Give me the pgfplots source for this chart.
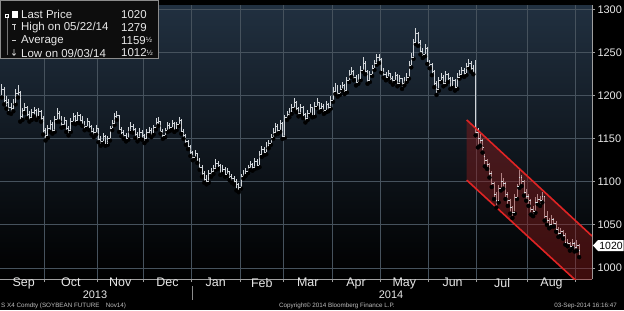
\documentclass[border=0pt]{standalone}
\usepackage{fontspec}
\setmainfont{Liberation Sans}
\usepackage{pgfplots}
\pgfplotsset{compat=1.18}
\usepackage{pgfplotstable}

\definecolor{bgtop}{HTML}{213040}
\definecolor{bgmid}{HTML}{121A22}
\definecolor{gridcol}{HTML}{46525D}
\definecolor{barcol}{HTML}{D2D6DA}
\definecolor{axcol}{HTML}{A0A0A0}
\definecolor{txtcol}{HTML}{E8E8E8}
\definecolor{footcol}{HTML}{BEBEBE}
\definecolor{chred}{HTML}{E02424}
\definecolor{chfill}{HTML}{8A1C1C}

\pgfdeclareplotmark{otick}{\pgfpathmoveto{\pgfqpoint{-\pgfplotmarksize}{0pt}}\pgfpathlineto{\pgfqpoint{0pt}{0pt}}\pgfusepathqstroke}
\pgfdeclareplotmark{ctick}{\pgfpathmoveto{\pgfqpoint{0pt}{0pt}}\pgfpathlineto{\pgfqpoint{\pgfplotmarksize}{0pt}}\pgfusepathqstroke}

\pgfplotstableread{
i o h l c
0 1210 1216 1200 1205
1 1205 1214 1198 1208
2 1208 1210 1190 1195
3 1195 1200 1185 1192
4 1192 1196 1180 1186
5 1186 1192 1179 1185
6 1185 1196 1182 1192
7 1192 1208 1190 1203
8 1203 1212 1198 1204
9 1204 1206 1170 1176
10 1176 1186 1172 1183
11 1183 1192 1180 1186
12 1186 1188 1174 1179
13 1179 1182 1170 1175
14 1175 1185 1172 1181
15 1181 1187 1176 1183
16 1183 1185 1172 1177
17 1177 1186 1175 1182
18 1182 1184 1170 1174
19 1174 1176 1155 1160
20 1160 1162 1148 1154
21 1154 1166 1151 1162
22 1162 1172 1158 1167
23 1167 1169 1156 1160
24 1160 1176 1158 1173
25 1173 1186 1170 1180
26 1180 1182 1170 1175
27 1175 1177 1163 1167
28 1167 1175 1164 1171
29 1171 1172 1158 1162
30 1162 1165 1154 1160
31 1160 1174 1158 1170
32 1170 1180 1168 1176
33 1176 1178 1167 1171
34 1171 1181 1169 1177
35 1177 1179 1168 1172
36 1172 1176 1165 1169
37 1169 1171 1160 1164
38 1164 1174 1162 1170
39 1170 1171 1160 1164
40 1164 1166 1155 1159
41 1159 1163 1152 1157
42 1157 1166 1155 1162
43 1162 1163 1146 1149
44 1149 1153 1142 1147
45 1147 1157 1145 1153
46 1153 1155 1142 1145
47 1145 1153 1143 1150
48 1150 1165 1148 1162
49 1162 1172 1160 1168
50 1168 1180 1166 1176
51 1176 1182 1172 1177
52 1177 1178 1158 1161
53 1161 1164 1153 1157
54 1157 1160 1150 1154
55 1154 1157 1147 1151
56 1151 1164 1149 1160
57 1160 1169 1158 1165
58 1165 1167 1157 1161
59 1161 1163 1151 1155
60 1155 1158 1147 1152
61 1152 1162 1150 1158
62 1158 1160 1149 1154
63 1154 1156 1145 1150
64 1150 1161 1148 1158
65 1158 1164 1154 1160
66 1160 1162 1152 1157
67 1157 1166 1155 1163
68 1163 1174 1161 1169
69 1169 1175 1165 1170
70 1170 1171 1156 1159
71 1159 1161 1150 1154
72 1154 1163 1152 1160
73 1160 1170 1158 1166
74 1166 1168 1159 1163
75 1163 1172 1161 1168
76 1168 1169 1158 1162
77 1162 1170 1160 1167
78 1167 1175 1165 1172
79 1172 1173 1156 1159
80 1159 1161 1150 1154
81 1154 1156 1143 1147
82 1147 1149 1138 1141
83 1141 1143 1130 1134
84 1134 1136 1125 1129
85 1129 1137 1127 1133
86 1133 1134 1122 1126
87 1126 1128 1114 1117
88 1117 1119 1106 1110
89 1110 1112 1099 1103
90 1103 1108 1097 1101
91 1101 1114 1099 1110
92 1110 1116 1106 1112
93 1112 1120 1109 1116
94 1116 1127 1114 1122
95 1122 1124 1115 1119
96 1119 1121 1108 1112
97 1112 1119 1110 1115
98 1115 1117 1106 1109
99 1109 1116 1107 1112
100 1112 1113 1102 1106
101 1106 1109 1099 1104
102 1104 1107 1097 1101
103 1101 1103 1090 1097
104 1097 1099 1088 1094
105 1094 1109 1092 1106
106 1106 1114 1104 1110
107 1110 1116 1107 1112
108 1112 1120 1110 1117
109 1117 1124 1114 1120
110 1120 1122 1113 1117
111 1117 1128 1115 1124
112 1124 1126 1116 1119
113 1119 1136 1117 1132
114 1132 1142 1129 1138
115 1138 1140 1131 1134
116 1134 1146 1132 1142
117 1142 1149 1139 1145
118 1145 1156 1143 1152
119 1152 1162 1150 1158
120 1158 1168 1155 1165
121 1165 1167 1156 1160
122 1160 1172 1158 1168
123 1168 1170 1150 1153
124 1153 1178 1151 1175
125 1175 1182 1172 1178
126 1178 1186 1175 1182
127 1182 1190 1179 1186
128 1186 1197 1184 1192
129 1192 1194 1181 1185
130 1185 1187 1176 1180
131 1180 1190 1178 1186
132 1186 1188 1174 1178
133 1178 1180 1169 1174
134 1174 1184 1172 1180
135 1180 1190 1178 1186
136 1186 1187 1175 1178
137 1178 1193 1176 1188
138 1188 1197 1186 1192
139 1192 1193 1181 1185
140 1185 1192 1183 1188
141 1188 1190 1179 1183
142 1183 1194 1181 1190
143 1190 1192 1182 1187
144 1187 1200 1185 1195
145 1195 1210 1193 1205
146 1205 1215 1202 1210
147 1210 1212 1199 1203
148 1203 1213 1201 1208
149 1208 1216 1206 1212
150 1212 1214 1202 1206
151 1206 1222 1204 1218
152 1218 1230 1216 1225
153 1225 1233 1222 1228
154 1228 1230 1218 1222
155 1222 1224 1212 1216
156 1216 1225 1214 1220
157 1220 1235 1218 1230
158 1230 1245 1228 1238
159 1238 1240 1225 1228
160 1228 1230 1214 1218
161 1218 1229 1216 1225
162 1225 1236 1223 1232
163 1232 1242 1230 1238
164 1238 1249 1236 1245
165 1245 1248 1238 1242
166 1242 1244 1227 1230
167 1230 1232 1221 1225
168 1225 1228 1218 1222
169 1222 1230 1220 1226
170 1226 1227 1216 1220
171 1220 1223 1213 1218
172 1218 1228 1216 1224
173 1224 1225 1211 1215
174 1215 1224 1213 1220
175 1220 1221 1208 1214
176 1214 1222 1212 1218
177 1218 1227 1216 1222
178 1222 1240 1220 1235
179 1235 1250 1233 1245
180 1245 1266 1243 1262
181 1262 1279 1260 1272
182 1272 1274 1258 1262
183 1262 1265 1248 1252
184 1252 1255 1244 1248
185 1248 1260 1246 1255
186 1255 1257 1237 1240
187 1240 1242 1232 1236
188 1236 1238 1224 1228
189 1228 1230 1210 1215
190 1215 1217 1201 1208
191 1208 1222 1206 1218
192 1218 1226 1216 1222
193 1222 1224 1211 1215
194 1215 1229 1213 1225
195 1225 1227 1216 1220
196 1220 1222 1208 1212
197 1212 1222 1210 1218
198 1218 1220 1206 1210
199 1210 1226 1208 1222
200 1222 1230 1220 1225
201 1225 1234 1223 1230
202 1230 1232 1222 1226
203 1226 1238 1224 1234
204 1234 1243 1232 1238
205 1238 1240 1228 1232
206 1232 1236 1225 1230
207 1230 1242 1154 1158
208 1158 1162 1140 1150
209 1150 1156 1142 1148
210 1148 1150 1134 1140
211 1130 1132 1118 1125
212 1125 1127 1115 1120
213 1120 1122 1105 1110
214 1110 1112 1094 1098
215 1098 1100 1080 1085
216 1085 1088 1070 1078
217 1078 1096 1076 1092
218 1092 1110 1090 1100
219 1100 1104 1092 1098
220 1098 1100 1080 1085
221 1085 1088 1072 1078
222 1078 1080 1063 1070
223 1070 1072 1058 1065
224 1065 1086 1063 1082
225 1082 1098 1080 1095
226 1095 1116 1093 1105
227 1105 1108 1095 1100
228 1100 1102 1084 1088
229 1088 1092 1078 1083
230 1083 1086 1072 1078
231 1078 1080 1062 1068
232 1068 1072 1060 1066
233 1066 1082 1064 1076
234 1076 1086 1074 1080
235 1080 1083 1072 1078
236 1078 1088 1076 1083
237 1083 1084 1055 1060
238 1060 1066 1050 1055
239 1055 1058 1046 1050
240 1050 1062 1048 1056
241 1056 1058 1048 1052
242 1052 1054 1042 1045
243 1045 1047 1036 1040
244 1040 1046 1038 1042
245 1042 1044 1034 1038
246 1038 1040 1027 1030
247 1030 1034 1025 1028
248 1028 1030 1020 1025
249 1025 1034 1023 1028
250 1028 1030 1019 1024
251 1024 1032 1020 1026
252 1026 1028 1012.5 1020
}\ohlc

\begin{document}
\begin{tikzpicture}[x=1bp,y=1bp]
\fill[black] (0,0) rectangle (624,310);
\begin{axis}[
  at={(0,36)}, anchor=south west,
  scale only axis, width=592bp, height=274bp,
  xmin=0.2, xmax=257.6, ymin=987, ymax=1305.5,
  axis background/.style={shade, top color=bgtop, middle color=bgmid, bottom color=black},
  axis x line*=bottom, axis y line*=right,
  axis line style={draw=axcol, line width=0.8bp},
  tick style={draw=axcol, line width=0.7bp},
  major tick length=3bp, tick align=outside,
  xtick={19.5,42.5,62.5,83.5,104.5,123.5,144.5,165.5,186.5,207.5,229.5,250.5},
  xticklabels={},
  extra x ticks={10.5,31,52.5,73,94,114,134,155,176,197,218.5,240},
  extra x tick labels={Sep,Oct,Nov,Dec,Jan,Feb,Mar,Apr,May,Jun,Jul,Aug},
  extra x tick style={grid=none, major tick length=0pt,
    tick label style={font=\fontsize{12.5}{13}\selectfont, text=txtcol, yshift=4.5bp}},
  ytick={1000,1050,1100,1150,1200,1250,1300},
  yticklabels={1000,1050,1100,1150,1200,1250,1300},
  yticklabel style={font=\fontsize{11}{12}\selectfont, text=txtcol, xshift=-1bp},
  xmajorgrids, ymajorgrids,
  grid style={draw=gridcol, line width=0.7bp},
]
% high-low ranges
\addplot[only marks, mark=none, forget plot,
  error bars/.cd, y dir=plus, y explicit, error mark=none,
  error bar style={draw=barcol, line width=0.75bp}]
  table[x=i, y=l, y error plus expr=\thisrow{h}-\thisrow{l}] {\ohlc};
% open ticks
\addplot[only marks, mark=otick, mark size=1.1bp, draw=barcol, line width=0.7bp, forget plot]
  table[x=i, y=o] {\ohlc};
% close ticks
\addplot[only marks, mark=ctick, mark size=1.1bp, draw=barcol, line width=0.7bp, forget plot]
  table[x=i, y=c] {\ohlc};
% channel fill
\addplot[fill=chfill, fill opacity=0.45, draw=none, forget plot]
  coordinates {(203.1,1172) (257.6,1037) (257.6,968) (203.1,1102) (203.1,1172)};
% channel lines
\addplot[chred, line width=1.6bp, forget plot] coordinates {(203.1,1172) (257.6,1037)};
\addplot[chred, line width=1.6bp, forget plot] coordinates {(203.1,1102) (257.6,968)};
\end{axis}

% legend box
\filldraw[fill=black!95, draw=black!45, line width=0.8bp] (0.4,252) rectangle (158,309.6);
\draw[black!55, line width=0.6bp] (7,294) -- (7,255);
\draw[white, line width=0.6bp] (5.5,293) rectangle (8.5,296);
\fill[white] (11.5,292) rectangle (17.5,298.5);
\draw[white!80!black, line width=0.7bp] (12,285.5) -- (16,285.5) (14,285.5) -- (14,280);
\draw[white!80!black, line width=0.7bp] (12,269.5) -- (16,269.5);
\draw[white!80!black, line width=0.7bp] (14,261) -- (14,254.5) (12.3,256.5) -- (14,254.5) -- (15.7,256.5);
\begin{scope}[every node/.style={font=\fontsize{11.5}{12}\selectfont, text=txtcol, inner sep=0pt}]
\node[anchor=west] at (21,295.5) {Last Price};
\node[anchor=west] at (21,282.5) {High on 05/22/14};
\node[anchor=west] at (21,269.5) {Average};
\node[anchor=west] at (21,257) {Low on 09/03/14};
\node[anchor=west] at (121,295.5) {1020};
\node[anchor=west] at (121,282.5) {1279};
\node[anchor=west] at (121,269.5) {1159\raisebox{1.5bp}{\fontsize{7.5}{8}\selectfont ½}};
\node[anchor=west] at (121,257) {1012\raisebox{1.5bp}{\fontsize{7.5}{8}\selectfont ½}};
\end{scope}

% last price tag
\fill[white] (593,64.5) -- (598,70) -- (623.5,70) -- (623.5,59) -- (598,59) -- cycle;
\node[font=\fontsize{10.5}{11}\selectfont, text=black, inner sep=0pt] at (611,64.5) {1020};

% years
\node[font=\fontsize{11}{12}\selectfont, text=txtcol, inner sep=0pt] at (95,15.5) {2013};
\node[font=\fontsize{11}{12}\selectfont, text=txtcol, inner sep=0pt] at (391,15.5) {2014};
\draw[black!45, line width=0.7bp] (192,24) -- (192,10);

% footer
\begin{scope}[every node/.style={font=\fontsize{6.3}{7}\selectfont, text=footcol, inner sep=0pt}]
\node[anchor=west] at (1,4.5) {S X4 Comdty (SOYBEAN FUTURE\quad Nov14)};
\node[anchor=west] at (279,4.5) {Copyright© 2014 Bloomberg Finance L.P.};
\node[anchor=east] at (617,4.5) {03-Sep-2014 16:16:47};
\end{scope}

\pgfresetboundingbox
\useasboundingbox (0,0) rectangle (624,310);
\end{tikzpicture}
\end{document}
